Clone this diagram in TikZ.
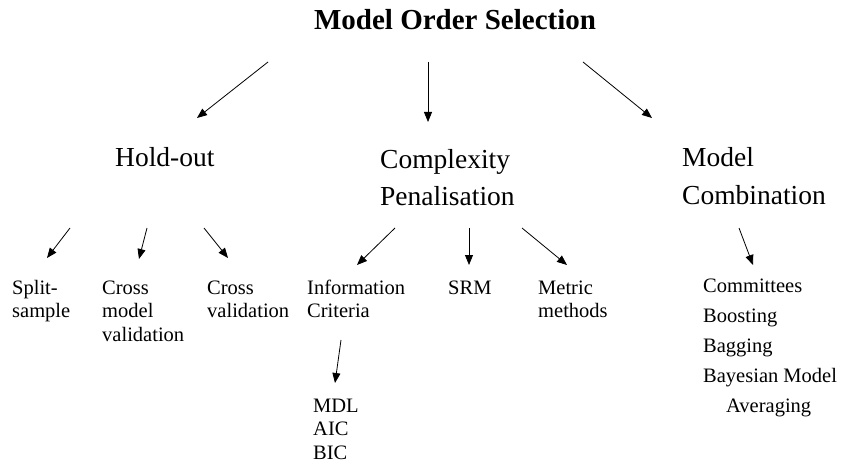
\documentclass[tikz,border=0pt]{standalone}
\usepackage{fontspec}
\setmainfont{Liberation Serif}
\usetikzlibrary{arrows.meta}
\newcommand\vlines[1]{\vtop{\halign{##\hfil\cr#1\crcr}}}
\begin{document}
\begin{tikzpicture}[x=1pt,y=-1pt,
  lbl/.style={inner sep=0pt,anchor=base west},
  big/.style={lbl,font=\fontsize{27.5}{37.5}\selectfont},
  small/.style={lbl,font=\fontsize{20.5}{23.8}\selectfont},
  list/.style={lbl,font=\fontsize{20.5}{30}\selectfont},
  arr/.style={line width=0.8pt,-{Triangle[length=10pt,width=8pt]}}]
\useasboundingbox (0,0) rectangle (841,468);
\node[inner sep=0pt,anchor=base,font=\fontsize{29}{34}\selectfont\bfseries] (title) at (455,30) {Model Order Selection};
\node[big] (hold) at (115,167) {Hold-out};
\node[big] (comp) at (380,168) {\vlines{Complexity\cr Penalisation}};
\node[big] (comb) at (682,167) {\vlines{Model\cr Combination}};
\node[small] (split) at (12,294) {\vlines{Split-\cr sample}};
\node[small] (cmv) at (102,294) {\vlines{Cross\cr model\cr validation}};
\node[small] (cv) at (207,294) {\vlines{Cross\cr validation}};
\node[small] (ic) at (307,294) {\vlines{Information\cr Criteria}};
\node[small] (mdl) at (313,412) {\vlines{MDL\cr AIC\cr BIC}};
\node[small] (srm) at (448,294) {SRM};
\node[small] (met) at (538,294) {\vlines{Metric\cr methods}};
\node[list] (com) at (703,292) {\vlines{Committees\cr Boosting\cr Bagging\cr Bayesian Model\cr \hspace{23pt}Averaging}};
% arrow end points
\coordinate (t1) at (268,62); \coordinate (h1) at (197,118);
\coordinate (t2) at (428,62); \coordinate (h2) at (428,122);
\coordinate (t3) at (583,62); \coordinate (h3) at (652,118);
\coordinate (s1) at (70,228); \coordinate (e1) at (47,258);
\coordinate (s2) at (147,228); \coordinate (e2) at (139,259);
\coordinate (s3) at (204,228); \coordinate (e3) at (228,258);
\coordinate (s4) at (395,228); \coordinate (e4) at (357,265);
\coordinate (s5) at (469,228); \coordinate (e5) at (469,265);
\coordinate (s6) at (522,228); \coordinate (e6) at (567,265);
\coordinate (s7) at (739,228); \coordinate (e7) at (753,265);
\coordinate (s8) at (341,340); \coordinate (e8) at (335,383);
\foreach \a/\b in {t1/h1,t2/h2,t3/h3,s1/e1,s2/e2,s3/e3,s4/e4,s5/e5,s6/e6,s7/e7,s8/e8}
  \draw[arr] (\a) -- (\b);
\end{tikzpicture}
\end{document}
